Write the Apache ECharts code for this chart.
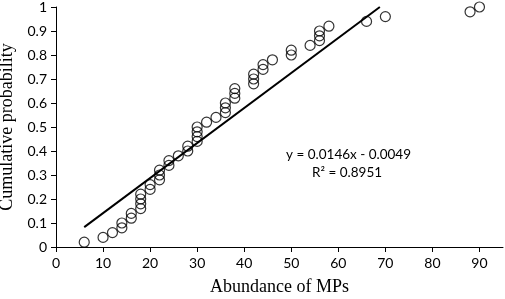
<!DOCTYPE html>
<html>
<head>
<meta charset="utf-8">
<script src="https://cdn.jsdelivr.net/npm/echarts@6/dist/echarts.min.js"></script>
<style>
  html, body { margin: 0; padding: 0; background: #fff; }
  #chart { width: 505px; height: 299px; }
</style>
</head>
<body>
<div id="chart"></div>
<script>
// abundance of MPs (x) and cumulative probability (y)
const abundance = [6, 10, 12, 14, 14, 16, 16, 18, 18, 18, 18, 20, 20, 22, 22, 22, 24, 24, 26, 28,
  28, 30, 30, 30, 30, 32, 34, 36, 36, 36, 38, 38, 38, 42, 42, 42, 44, 44, 46, 50,
  50, 54, 56, 56, 56, 58, 66, 70, 88, 90];
const cumProb = [0.02, 0.04, 0.06, 0.08, 0.10, 0.12, 0.14, 0.16, 0.18, 0.20, 0.22, 0.24, 0.26, 0.28, 0.30, 0.32, 0.34, 0.36, 0.38, 0.40,
  0.42, 0.44, 0.46, 0.48, 0.50, 0.52, 0.54, 0.56, 0.58, 0.60, 0.62, 0.64, 0.66, 0.68, 0.70, 0.72, 0.74, 0.76, 0.78, 0.80,
  0.82, 0.84, 0.86, 0.88, 0.90, 0.92, 0.94, 0.96, 0.98, 1.00];
const xTicks = [0, 10, 20, 30, 40, 50, 60, 70, 80, 90];

// linear trendline as printed on the chart
const slope = 0.0146;
const intercept = -0.0049;
const trendStart = 6;
const trendEnd = (1 - intercept) / slope;   // where the line leaves the plot

let points = abundance.map((x, i) => [x, cumProb[i]]);
let trend = [trendStart, trendEnd].map((x) => [x, slope * x + intercept]);

let chart = echarts.init(document.getElementById('chart'));
chart.setOption({
  animation: false,
  grid: { left: 56, right: 2, top: 7, bottom: 52, outerBoundsMode: 'none' },
  xAxis: {
    type: 'value', min: 0, max: 95, interval: 10,
    name: 'Abundance of MPs', nameLocation: 'middle', nameGap: 31,
    nameTextStyle: { fontFamily: 'Liberation Serif', fontSize: 18, color: '#000' },
    axisLine: { lineStyle: { color: '#000', width: 1 } },
    axisTick: { length: 5, lineStyle: { color: '#000' }, customValues: xTicks },
    axisLabel: { customValues: xTicks, fontFamily: 'Lato', fontSize: 14, color: '#000', margin: 9 },
    splitLine: { show: false }
  },
  yAxis: {
    type: 'value', min: 0, max: 1, interval: 0.1,
    name: 'Cumulative probability', nameLocation: 'middle', nameGap: 35,
    nameTextStyle: { fontFamily: 'Liberation Serif', fontSize: 18, color: '#000' },
    axisLine: { show: true, lineStyle: { color: '#000', width: 1 } },
    axisTick: { show: true, length: 5, lineStyle: { color: '#000' } },
    axisLabel: { fontFamily: 'Lato', fontSize: 14, color: '#000', margin: 9 },
    splitLine: { show: false }
  },
  series: [
    {
      type: 'scatter', data: points, symbol: 'circle', symbolSize: 10,
      itemStyle: { color: 'rgba(0,0,0,0)', borderColor: '#000', borderWidth: 1.2 }
    },
    {
      type: 'line', data: trend, symbol: 'none',
      lineStyle: { color: '#000', width: 2 }
    }
  ],
  graphic: [
    {
      type: 'text', left: 286, top: 148,
      style: { text: 'y = 0.0146x - 0.0049', fontFamily: 'Lato', fontSize: 13.5, fill: '#000' }
    },
    {
      type: 'text', left: 312, top: 166,
      style: { text: 'R² = 0.8951', fontFamily: 'Lato', fontSize: 13.5, fill: '#000' }
    }
  ]
});
</script>
</body>
</html>
